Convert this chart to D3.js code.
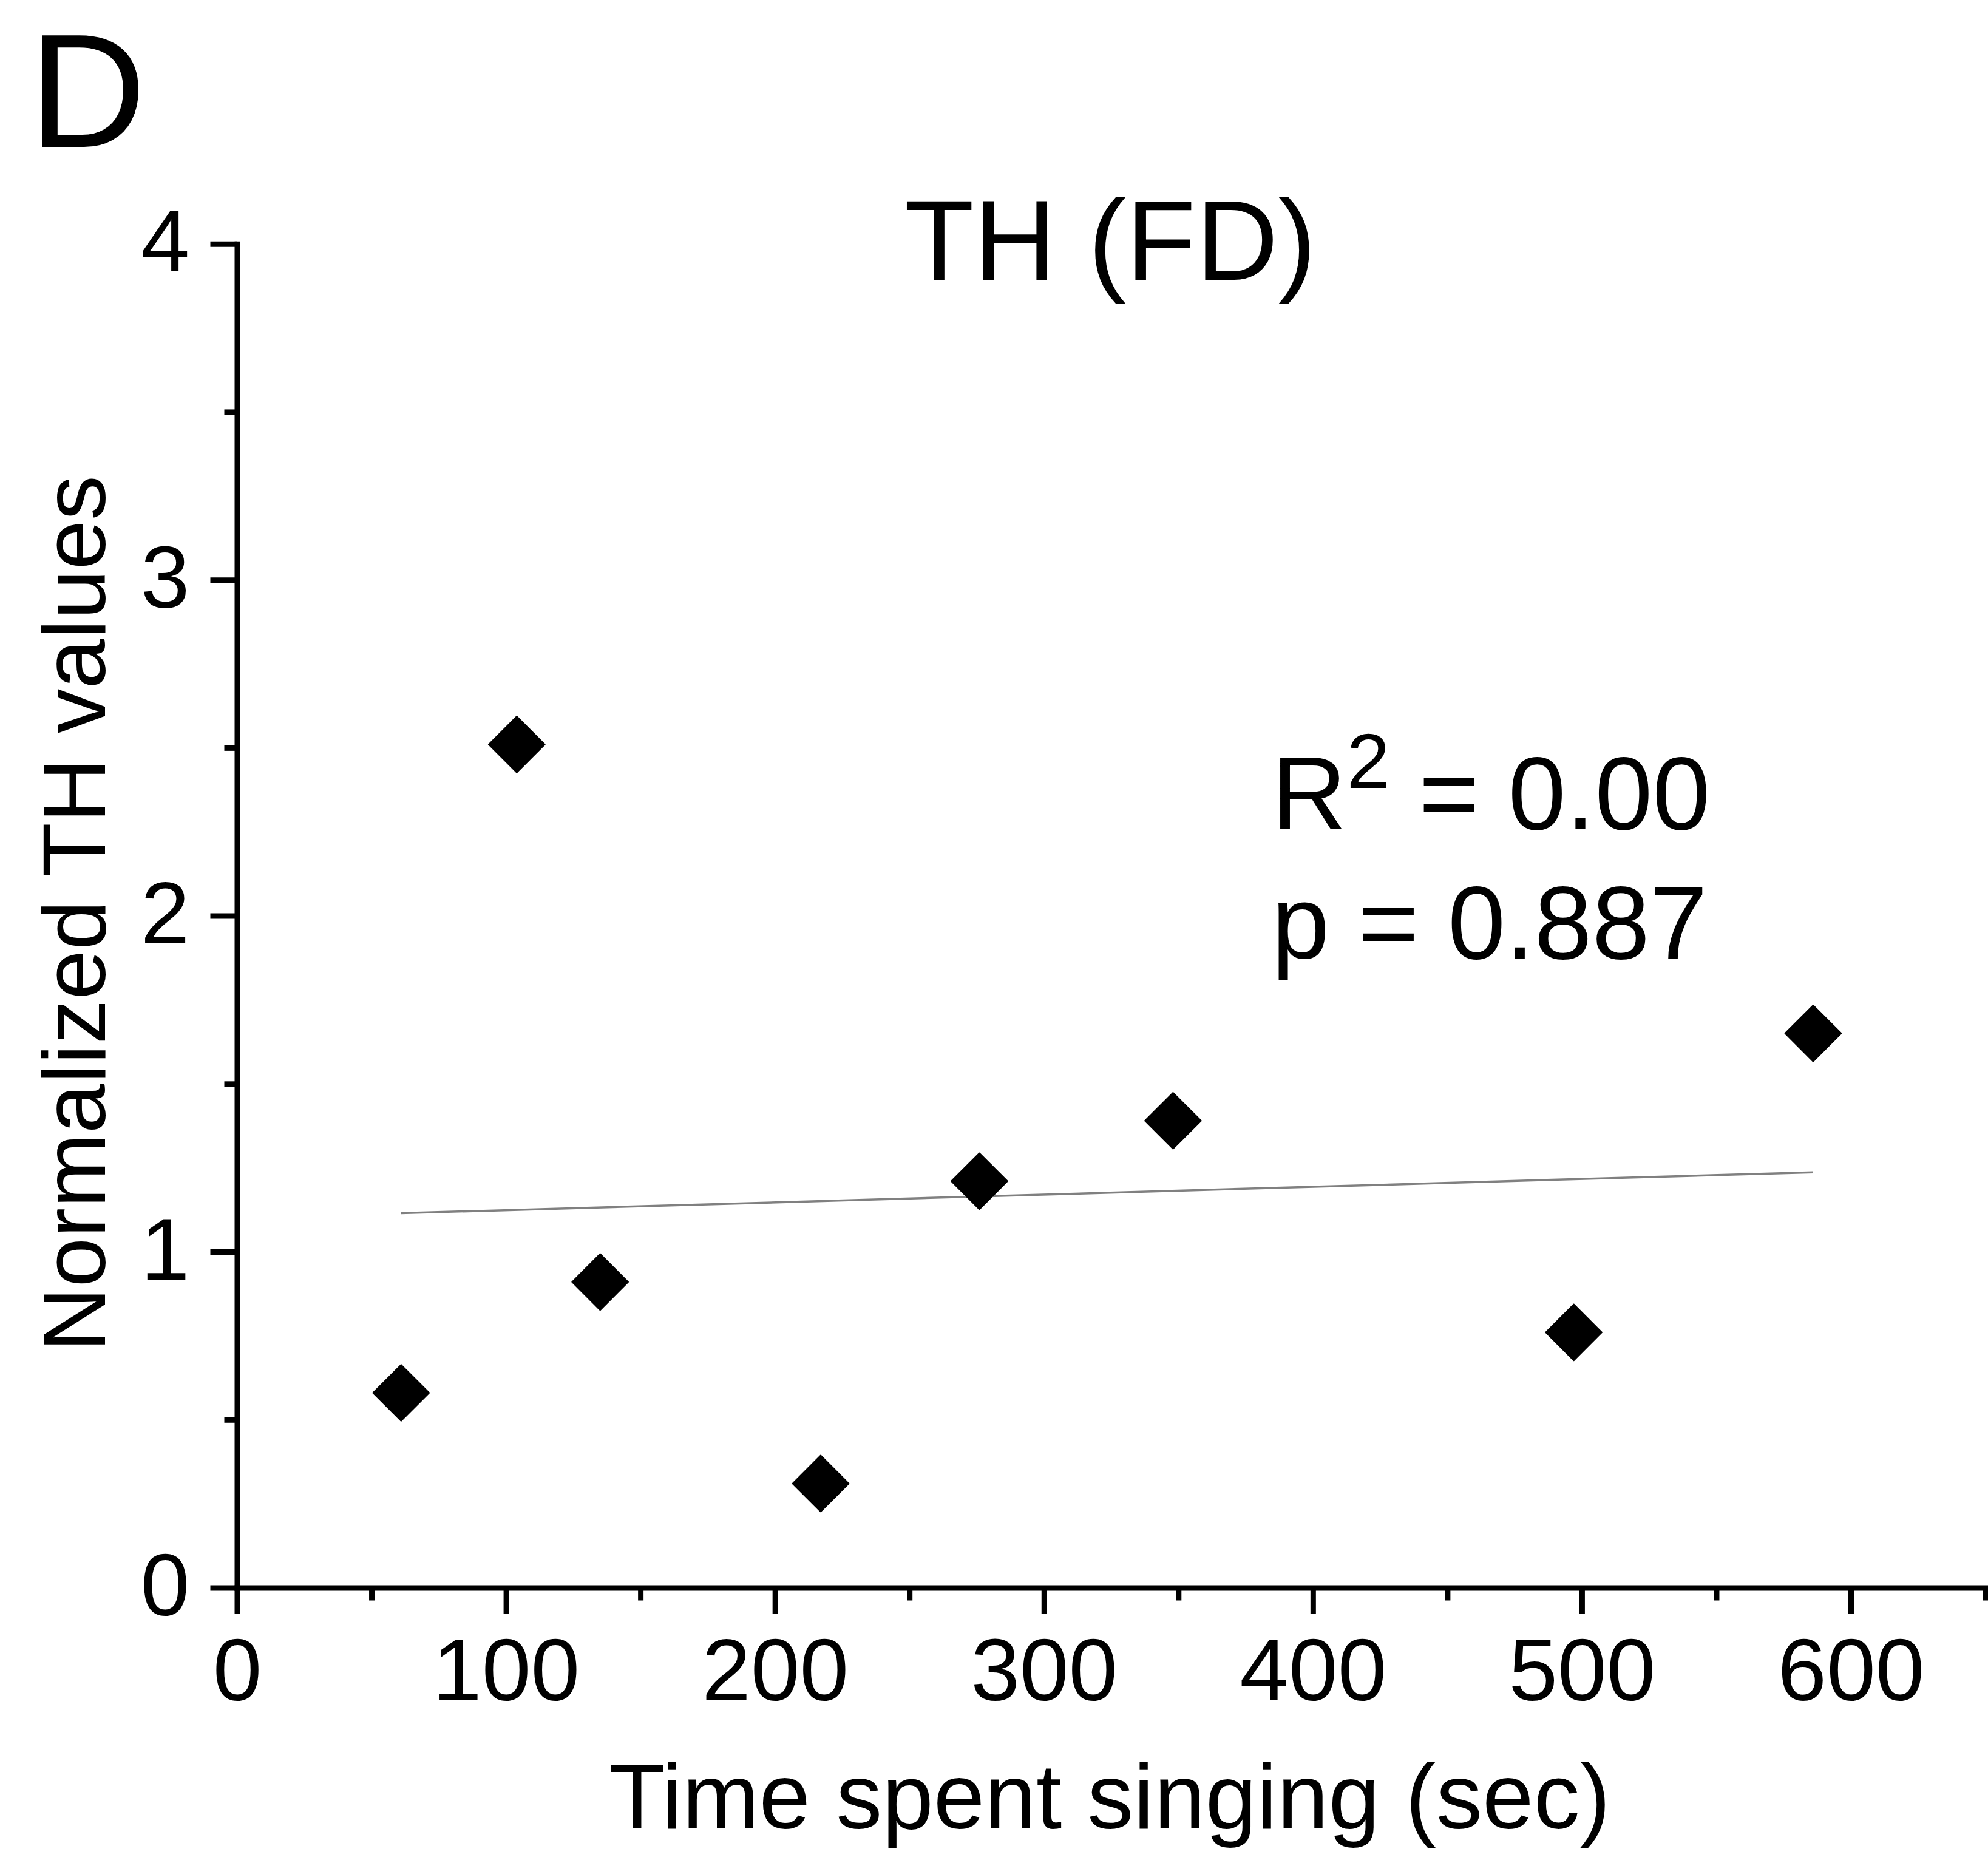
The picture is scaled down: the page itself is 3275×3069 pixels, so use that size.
<!DOCTYPE html>
<html>
<head>
<meta charset="utf-8">
<script src="https://cdn.jsdelivr.net/npm/d3@7"></script>
<style>
  body { margin: 0; background: #fff; }
  svg text { font-family: "Liberation Sans", Arial, sans-serif; fill: #000; }
</style>
</head>
<body>
<div id="viz"><svg></svg></div>
<script>
const fullWidth = 3275;
const fullHeight = 3069;

// values
const timeSec = [61, 104, 135, 217, 276, 348, 497, 586];
const thValues = [0.58, 2.51, 0.91, 0.31, 1.21, 1.39, 0.76, 1.65];
const xTicks = [0, 100, 200, 300, 400, 500, 600];
const xMinor = [50, 150, 250, 350, 450, 550, 650];
const yTicks = [0, 1, 2, 3, 4];
const yMinor = [0.5, 1.5, 2.5, 3.5];
const panelLabel = 'D';
const title = 'TH (FD)';
const statR2 = '0.00';
const statP = '0.887';

const x = d3.scaleLinear().domain([0, 600]).range([390.5, 3049]);
const y = d3.scaleLinear().domain([0, 4]).range([2615.5, 401.7]);
const xEnd = x(652);

const svg = d3.select('#viz svg')
  .attr('width', fullWidth)
  .attr('height', fullHeight);

// least squares fit through the points
const mx = d3.mean(timeSec), my = d3.mean(thValues);
let sxy = 0, sxx = 0;
timeSec.forEach((t, i) => {
  sxy += (t - mx) * (thValues[i] - my);
  sxx += (t - mx) * (t - mx);
});
const slope = sxy / sxx;
const icpt = my - slope * mx;
const xmin = d3.min(timeSec), xmax = d3.max(timeSec);

// axes
const xa = x.copy().domain([0, 652]).range([390.5, xEnd]);
const yAxis = d3.axisLeft(y).tickValues(yTicks).tickFormat(d3.format('d'))
  .tickSize(44).tickSizeOuter(0).tickPadding(34);
const yAxisMinor = d3.axisLeft(y).tickValues(yMinor).tickSize(21).tickFormat('');
const xAxis = d3.axisBottom(xa).tickValues(xTicks).tickFormat(d3.format('d'))
  .tickSize(43).tickSizeOuter(0).tickPadding(40);
const xAxisMinor = d3.axisBottom(xa).tickValues(xMinor).tickSize(21).tickFormat('');

function styleAxis(g) {
  g.selectAll('path.domain').attr('stroke', '#000').attr('stroke-width', 9).attr('stroke-linecap', 'square');
  g.selectAll('.tick line').attr('stroke', '#000').attr('stroke-width', 9);
  g.selectAll('.tick text').attr('font-size', 145).attr('font-family', '"Liberation Sans", Arial, sans-serif').attr('fill', '#000');
}

svg.append('g').attr('transform', 'translate(0,2615.5)').call(xAxisMinor).call(styleAxis)
  .select('path.domain').remove();
svg.append('g').attr('transform', 'translate(390.5,0)').call(yAxisMinor).call(styleAxis)
  .select('path.domain').remove();

const gx = svg.append('g').attr('transform', 'translate(0,2615.5)').call(xAxis).call(styleAxis);
gx.selectAll('.tick text').attr('dy', null).attr('y', 2801 - 2615.5);

const gy = svg.append('g').attr('transform', 'translate(390.5,0)').call(yAxis).call(styleAxis);
gy.selectAll('.tick text').attr('dy', null).attr('y', 45);

// fit line
svg.append('line')
  .attr('x1', x(xmin)).attr('y1', y(icpt + slope * xmin))
  .attr('x2', x(xmax)).attr('y2', y(icpt + slope * xmax))
  .attr('stroke', '#808080')
  .attr('stroke-width', 3.5);

// diamonds
const diamond = d3.symbol().type(d3.symbolSquare).size(4300);
svg.append('g').selectAll('path')
  .data(timeSec.map((t, i) => ({ t, v: thValues[i] })))
  .enter().append('path')
  .attr('d', diamond)
  .attr('transform', d => `translate(${x(d.t)},${y(d.v)}) rotate(45)`)
  .attr('fill', '#000')
  .attr('stroke', '#000')
  .attr('stroke-width', 2)
  .attr('stroke-linejoin', 'round');

// text
svg.append('text')
  .attr('x', 48).attr('y', 242)
  .attr('font-size', 267)
  .text(panelLabel);

svg.append('text')
  .attr('x', 1829).attr('y', 461)
  .attr('text-anchor', 'middle')
  .attr('font-size', 188)
  .text(title);

const r2 = svg.append('text')
  .attr('x', 2095).attr('y', 1366)
  .attr('font-size', 171);
r2.append('tspan').text('R');
r2.append('tspan').attr('font-size', 128).attr('dy', -68).text('2');
r2.append('tspan').attr('dy', 68).text(' = ' + statR2);

svg.append('text')
  .attr('x', 2095).attr('y', 1579)
  .attr('font-size', 171)
  .text('p = ' + statP);

svg.append('text')
  .attr('transform', 'translate(173,1505) rotate(-90)')
  .attr('text-anchor', 'middle')
  .attr('font-size', 147)
  .text('Normalized TH values');

svg.append('text')
  .attr('x', 1828).attr('y', 3012)
  .attr('text-anchor', 'middle')
  .attr('font-size', 152)
  .text('Time spent singing (sec)');
</script>
</body>
</html>
